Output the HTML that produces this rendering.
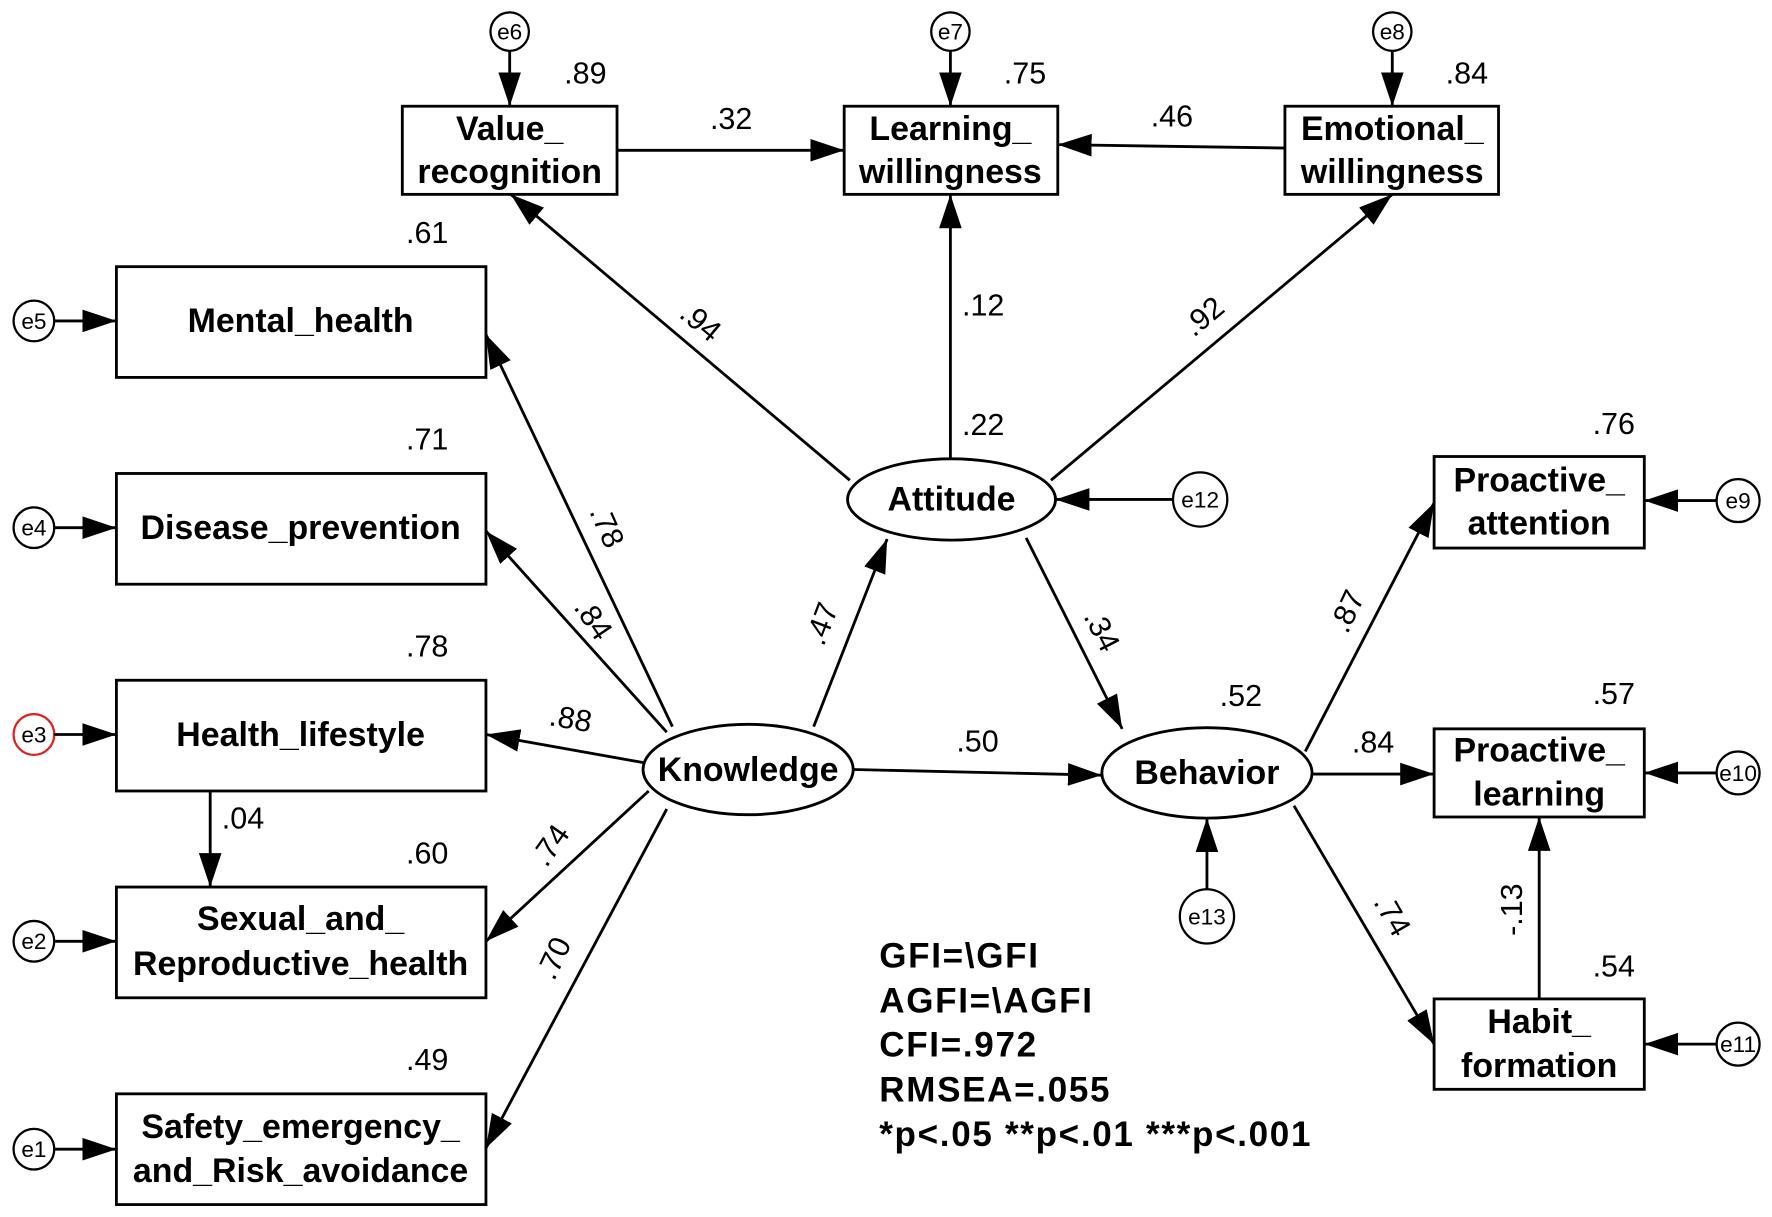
<!DOCTYPE html>
<html><head><meta charset="utf-8"><style>
html,body{margin:0;padding:0;background:#fff;}
svg{display:block;}
text{font-family:"Liberation Sans",sans-serif;fill:#000;}
.b{font-weight:bold;font-size:30px;text-anchor:middle;}
.n{font-size:27px;text-anchor:middle;}
.e{font-size:20px;text-anchor:middle;}
.f{font-weight:bold;font-size:31px;letter-spacing:1.5px;}
</style></head><body>
<svg width="1772" height="1217" viewBox="0 0 1568 1077" preserveAspectRatio="none" xmlns="http://www.w3.org/2000/svg">
<defs>
<marker id="a" markerUnits="userSpaceOnUse" markerWidth="32" markerHeight="20" refX="30" refY="10" orient="auto">
<path d="M0,0 L30,10 L0,20 z" fill="#000"/></marker>
</defs>
<g fill="#fff" stroke="#000" stroke-width="2.5">
<rect x="356" y="94" width="190" height="78"/>
<rect x="747" y="94" width="189" height="78"/>
<rect x="1137" y="94" width="189" height="78"/>
<rect x="103" y="236" width="327" height="98"/>
<rect x="103" y="419" width="327" height="98"/>
<rect x="103" y="602" width="327" height="98"/>
<rect x="103" y="785" width="327" height="98"/>
<rect x="103" y="968" width="327" height="98"/>
<rect x="1269" y="404" width="186" height="81"/>
<rect x="1269" y="645" width="186" height="78"/>
<rect x="1269" y="884" width="186" height="80"/>
<ellipse cx="842" cy="442" rx="92" ry="36"/>
<ellipse cx="662" cy="681" rx="93" ry="40"/>
<ellipse cx="1068" cy="684" rx="93" ry="40"/>
</g>
<g fill="#fff" stroke="#000" stroke-width="2">
<circle cx="451" cy="28" r="17"/><circle cx="841" cy="28" r="17"/><circle cx="1232" cy="28" r="17"/>
<circle cx="30" cy="284" r="18"/><circle cx="30" cy="467" r="18"/>
<circle cx="30" cy="650" r="18" stroke="#e02020"/>
<circle cx="30" cy="833" r="18"/><circle cx="30" cy="1017" r="18"/>
<circle cx="1062" cy="442" r="24"/><circle cx="1068" cy="811" r="24"/>
<circle cx="1538" cy="443" r="19"/><circle cx="1538" cy="684" r="19"/><circle cx="1538" cy="924" r="19"/>
</g>
<g stroke="#000" stroke-width="2.5" fill="none" marker-end="url(#a)">
<line x1="451" y1="45" x2="451" y2="94"/>
<line x1="841" y1="45" x2="841" y2="94"/>
<line x1="1232" y1="45" x2="1232" y2="94"/>
<line x1="48" y1="284" x2="103" y2="284"/>
<line x1="48" y1="467" x2="103" y2="467"/>
<line x1="48" y1="650" x2="103" y2="650"/>
<line x1="48" y1="833" x2="103" y2="833"/>
<line x1="48" y1="1017" x2="103" y2="1017"/>
<line x1="546" y1="133" x2="747" y2="133"/>
<line x1="1137" y1="131" x2="936" y2="128"/>
<line x1="752" y1="425" x2="452" y2="172"/>
<line x1="841" y1="406" x2="841" y2="172"/>
<line x1="930" y1="425" x2="1232" y2="172"/>
<line x1="1038" y1="442" x2="934" y2="442"/>
<line x1="908" y1="476" x2="993" y2="645"/>
<line x1="720" y1="643" x2="785" y2="477"/>
<line x1="755" y1="681" x2="975" y2="686"/>
<line x1="595" y1="643" x2="430" y2="296"/>
<line x1="590" y1="648" x2="430" y2="470"/>
<line x1="570" y1="675" x2="430" y2="650"/>
<line x1="186" y1="700" x2="186" y2="785"/>
<line x1="574" y1="700" x2="430" y2="833"/>
<line x1="590" y1="716" x2="430" y2="1016"/>
<line x1="1155" y1="665" x2="1269" y2="445"/>
<line x1="1162" y1="685" x2="1269" y2="685"/>
<line x1="1145" y1="713" x2="1269" y2="924"/>
<line x1="1362" y1="884" x2="1362" y2="723"/>
<line x1="1068" y1="787" x2="1068" y2="724"/>
<line x1="1519" y1="443" x2="1455" y2="443"/>
<line x1="1519" y1="684" x2="1455" y2="684"/>
<line x1="1519" y1="924" x2="1455" y2="924"/>
</g>
<text class="b" x="451" y="124">Value_</text><text class="b" x="451" y="162">recognition</text>
<text class="b" x="841" y="124">Learning_</text><text class="b" x="841" y="162">willingness</text>
<text class="b" x="1232" y="124">Emotional_</text><text class="b" x="1232" y="162">willingness</text>
<text class="b" x="266" y="294">Mental_health</text>
<text class="b" x="266" y="477">Disease_prevention</text>
<text class="b" x="266" y="660">Health_lifestyle</text>
<text class="b" x="266" y="823">Sexual_and_</text><text class="b" x="266" y="863">Reproductive_health</text>
<text class="b" x="266" y="1007">Safety_emergency_</text><text class="b" x="266" y="1046">and_Risk_avoidance</text>
<text class="b" x="1362" y="435">Proactive_</text><text class="b" x="1362" y="473">attention</text>
<text class="b" x="1362" y="674">Proactive_</text><text class="b" x="1362" y="713">learning</text>
<text class="b" x="1362" y="914">Habit_</text><text class="b" x="1362" y="953">formation</text>
<text class="b" x="842" y="452">Attitude</text>
<text class="b" x="662" y="691">Knowledge</text>
<text class="b" x="1068" y="694">Behavior</text>
<text class="e" x="451" y="35">e6</text><text class="e" x="841" y="35">e7</text><text class="e" x="1232" y="35">e8</text>
<text class="e" x="30" y="291">e5</text><text class="e" x="30" y="474">e4</text><text class="e" x="30" y="657">e3</text>
<text class="e" x="30" y="840">e2</text><text class="e" x="30" y="1024">e1</text>
<text class="e" x="1062" y="449">e12</text><text class="e" x="1068" y="818">e13</text>
<text class="e" x="1538" y="450">e9</text><text class="e" x="1538" y="691">e10</text><text class="e" x="1538" y="931">e11</text>
<text class="n" x="518" y="74">.89</text><text class="n" x="907" y="74">.75</text><text class="n" x="1298" y="74">.84</text>
<text class="n" x="378" y="215">.61</text><text class="n" x="378" y="398">.71</text><text class="n" x="378" y="581">.78</text>
<text class="n" x="378" y="764">.60</text><text class="n" x="378" y="947">.49</text>
<text class="n" x="1428" y="384">.76</text><text class="n" x="1428" y="623">.57</text><text class="n" x="1428" y="864">.54</text>
<text class="n" x="647" y="114">.32</text><text class="n" x="1037" y="112">.46</text>
<text class="n" x="870" y="279">.12</text><text class="n" x="870" y="385">.22</text>
<text class="n" x="865" y="665">.50</text><text class="n" x="1098" y="625">.52</text>
<text class="n" x="215" y="733">.04</text><text class="n" x="1215" y="666">.84</text>
<text class="n" transform="translate(620,285) rotate(40)" y="9">.94</text>
<text class="n" transform="translate(1065,280) rotate(-40)" y="9">.92</text>
<text class="n" transform="translate(975,558) rotate(63)" y="9">.34</text>
<text class="n" transform="translate(727,552) rotate(-69)" y="9">.47</text>
<text class="n" transform="translate(537,466) rotate(66)" y="9">.78</text>
<text class="n" transform="translate(525,548) rotate(56)" y="9">.84</text>
<text class="n" transform="translate(505,636) rotate(10)" y="9">.88</text>
<text class="n" transform="translate(487,748) rotate(-55)" y="9">.74</text>
<text class="n" transform="translate(490,848) rotate(-65)" y="9">.70</text>
<text class="n" transform="translate(1192,541) rotate(-65)" y="9">.87</text>
<text class="n" transform="translate(1232,810) rotate(60)" y="9">.74</text>
<text class="n" transform="translate(1338,805) rotate(-90)" y="9">-.13</text>
<text class="f" x="778" y="856">GFI=\GFI</text>
<text class="f" x="778" y="896">AGFI=\AGFI</text>
<text class="f" x="778" y="935">CFI=.972</text>
<text class="f" x="778" y="975">RMSEA=.055</text>
<text class="f" x="778" y="1014">*p&lt;.05 **p&lt;.01 ***p&lt;.001</text>
</svg>
</body></html>
